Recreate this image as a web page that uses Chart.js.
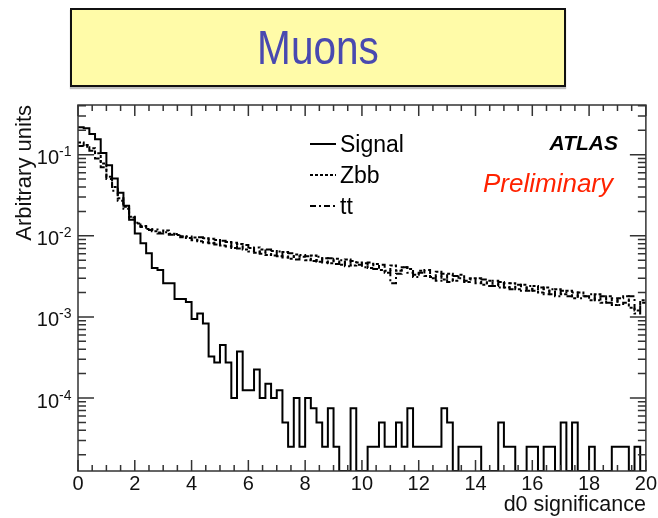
<!DOCTYPE html>
<html>
<head>
<meta charset="utf-8">
<title>Muons - d0 significance</title>
<script src="https://cdn.jsdelivr.net/npm/chart.js@4.4.0/dist/chart.umd.min.js"></script>
<style>
  html, body { margin: 0; padding: 0; background: #fff; }
  #wrap { position: relative; width: 658px; height: 518px; overflow: hidden; }
  #plot { position: absolute; left: 0; top: 0; }
  #banner {
    position: absolute; left: 70px; top: 8px; width: 492px; height: 75px;
    background: #fffba8; border: 2px solid #111;
    box-shadow: 0 2px 1px rgba(0, 0, 0, 0.25);
  }
  #banner span {
    position: absolute; left: 0; right: 0; top: 14px;
    text-align: center;
    font: 48px "Liberation Sans", Arial, sans-serif; line-height: 48px;
    color: #4949b0; transform: scaleX(0.845);
  }
</style>
</head>
<body>
<div id="wrap">
  <canvas id="plot" width="658" height="518"></canvas>
  <div id="banner"><span>Muons</span></div>
</div>
<script>
// binning: 100 bins of 0.2 in d0 significance
const xMin = 0;
const xMax = 20;
const nBins = 100;
const binEdges = [];
for (let i = 0; i < nBins; i++) binEdges.push(+(xMin + i * (xMax - xMin) / nBins).toFixed(2));

const yMin = 1.26e-5;
const yMax = 0.41;
const xTickStep = 2;

// normalised distributions (arbitrary units), one value per bin
const signal = [
  0.218, 0.212, 0.180, 0.155, 0.105, 0.074, 0.051, 0.034, 0.0235, 0.0158,
  0.0107, 0.0081, 0.0061, 0.0040, 0.0038, 0.0026, 0.0026, 0.00166, 0.00166, 0.00153,
  0.00094, 0.0011, 0.00083, 3.25e-4, 2.75e-4, 4.5e-4, 2.75e-4, 1.0e-4, 3.75e-4, 1.25e-4,
  1.25e-4, 2.25e-4, 1.0e-4, 1.5e-4, 1.0e-4, 1.25e-4, 5e-5, 2.5e-5, 1.0e-4, 2.5e-5,
  1.0e-4, 7.5e-5, 5e-5, 2.5e-5, 7.5e-5, 2.5e-5, 0, 0, 7.5e-5, 0,
  0, 2.5e-5, 2.5e-5, 5e-5, 2.5e-5, 2.5e-5, 5e-5, 2.5e-5, 7.5e-5, 2.5e-5,
  2.5e-5, 2.5e-5, 2.5e-5, 2.5e-5, 7.5e-5, 5e-5, 0, 2.5e-5, 2.5e-5, 2.5e-5,
  2.5e-5, 0, 0, 0, 5e-5, 2.5e-5, 2.5e-5, 0, 0, 2.5e-5,
  2.5e-5, 0, 2.5e-5, 2.5e-5, 0, 5e-5, 0, 5e-5, 0, 0,
  2.5e-5, 0, 0, 0, 2.5e-5, 2.5e-5, 2.5e-5, 0, 2.5e-5, 0
];

const zbb = [
  0.141, 0.132, 0.120, 0.104, 0.078, 0.0535, 0.040, 0.029, 0.0228, 0.0172,
  0.0142, 0.0132, 0.0121, 0.0114, 0.0110, 0.0116, 0.0106, 0.0102, 0.0099, 0.0094,
  0.0095, 0.0086, 0.0093, 0.0081, 0.0089, 0.0076, 0.0084, 0.0071, 0.0079, 0.0068,
  0.0071, 0.0062, 0.0068, 0.0058, 0.0065, 0.0056, 0.0063, 0.0052, 0.0059, 0.0055,
  0.0050, 0.0057, 0.0048, 0.0053, 0.0046, 0.0052, 0.0044, 0.0051, 0.0043, 0.0047,
  0.0046, 0.0040, 0.0045, 0.0038, 0.0035, 0.0043, 0.0037, 0.0041, 0.0039, 0.0033,
  0.0037, 0.0032, 0.0030, 0.0036, 0.0029, 0.0034, 0.0028, 0.0033, 0.0027, 0.0030,
  0.0030, 0.0025, 0.0028, 0.0024, 0.0027, 0.0023, 0.0026, 0.0022, 0.0025, 0.0021,
  0.0024, 0.0020, 0.0023, 0.0019, 0.0022, 0.0019, 0.0021, 0.0017, 0.0020, 0.0018,
  0.0016, 0.0019, 0.0015, 0.0018, 0.0014, 0.0017, 0.0018, 0.0013, 0.0012, 0.0016
];

const ttbar = [
  0.128, 0.125, 0.112, 0.090, 0.070, 0.050, 0.036, 0.027, 0.0215, 0.0168,
  0.0145, 0.0128, 0.0118, 0.0120, 0.0107, 0.0111, 0.0103, 0.0105, 0.0096, 0.0098,
  0.0088, 0.0096, 0.0083, 0.0092, 0.0078, 0.0087, 0.0074, 0.0082, 0.0070, 0.0077,
  0.0064, 0.0072, 0.0060, 0.0068, 0.0057, 0.0064, 0.0054, 0.0061, 0.0051, 0.0058,
  0.0056, 0.0049, 0.0055, 0.0047, 0.0053, 0.0045, 0.0050, 0.0042, 0.0049, 0.0044,
  0.0041, 0.0047, 0.0039, 0.0044, 0.0037, 0.0026, 0.0034, 0.0041, 0.0035, 0.0031,
  0.0035, 0.0038, 0.0031, 0.0028, 0.0034, 0.0027, 0.0032, 0.0030, 0.0028, 0.0029,
  0.0026, 0.0029, 0.0024, 0.0028, 0.0023, 0.0026, 0.0022, 0.0025, 0.0021, 0.0024,
  0.0021, 0.0023, 0.0019, 0.0022, 0.0018, 0.0021, 0.0018, 0.0020, 0.0017, 0.0018,
  0.0019, 0.0016, 0.0018, 0.0015, 0.0017, 0.0014, 0.0015, 0.0018, 0.0011, 0.0015
];

const FONT = '"Liberation Sans", Arial, Helvetica, sans-serif';

// histogram outline: one point per left bin edge plus the closing edge;
// empty bins are sent to the bottom of the log axis
function histPoints(values) {
  const pts = values.map((v, i) => ({ x: binEdges[i], y: v > 0 ? v : yMin }));
  const last = values[values.length - 1];
  pts.push({ x: xMax, y: last > 0 ? last : yMin });
  return pts;
}

function isDecade(v) {
  const e = Math.log10(v);
  return Math.abs(e - Math.round(e)) < 1e-6;
}

// frame with ROOT-style inward ticks, exponents, legend and ATLAS labels
const decorations = {
  id: 'decorations',
  afterDraw(chart) {
    const { ctx, chartArea: a, scales: { x, y } } = chart;
    ctx.save();
    ctx.strokeStyle = '#333';
    ctx.lineWidth = 1.5;
    ctx.strokeRect(a.left, a.top, a.right - a.left, a.bottom - a.top);

    ctx.beginPath();
    for (let v = xMin; v <= xMax + 1e-9; v += 0.5) {
      const px = x.getPixelForValue(v);
      const len = Math.abs(v / xTickStep - Math.round(v / xTickStep)) < 1e-6 ? 11 : 6;
      ctx.moveTo(px, a.bottom); ctx.lineTo(px, a.bottom - len);
      ctx.moveTo(px, a.top); ctx.lineTo(px, a.top + len);
    }
    for (let d = -6; d <= 0; d++) {
      for (let m = 1; m <= 9; m++) {
        const v = m * Math.pow(10, d);
        if (v < y.min || v > y.max) continue;
        const py = y.getPixelForValue(v);
        const len = m === 1 ? 16 : 8;
        ctx.moveTo(a.left, py); ctx.lineTo(a.left + len, py);
        ctx.moveTo(a.right, py); ctx.lineTo(a.right - len, py);
      }
    }
    ctx.stroke();

    // exponents of the "10" labels on the log axis
    ctx.fillStyle = '#111';
    ctx.font = '14px ' + FONT;
    ctx.textAlign = 'left';
    ctx.textBaseline = 'alphabetic';
    y.ticks.forEach(t => {
      if (!isDecade(t.value)) return;
      const py = y.getPixelForValue(t.value);
      ctx.fillText(String(Math.round(Math.log10(t.value))), a.left - 19, py + 1.5);
    });

    // legend
    ctx.fillStyle = '#000';
    ctx.font = '23px ' + FONT;
    chart.data.datasets.forEach((ds, i) => {
      const ly = 144 + i * 31;
      ctx.strokeStyle = ds.borderColor;
      ctx.lineWidth = ds.borderWidth;
      ctx.setLineDash(ds.borderDash || []);
      ctx.beginPath();
      ctx.moveTo(310, ly); ctx.lineTo(336, ly);
      ctx.stroke();
      ctx.setLineDash([]);
      ctx.fillText(ds.label, 340, ly + 8);
    });

    ctx.textAlign = 'right';
    ctx.font = 'italic bold 21px ' + FONT;
    ctx.fillText('ATLAS', 618, 150);
    ctx.fillStyle = '#ff2200';
    ctx.font = 'italic 26px ' + FONT;
    ctx.fillText('Preliminary', 613, 192);
    ctx.restore();
  }
};

new Chart(document.getElementById('plot'), {
  type: 'line',
  data: {
    datasets: [
      { label: 'Signal', data: histPoints(signal), borderColor: '#000', borderWidth: 2, borderDash: [] },
      { label: 'Zbb', data: histPoints(zbb), borderColor: '#000', borderWidth: 2, borderDash: [3, 2] },
      { label: 'tt', data: histPoints(ttbar), borderColor: '#000', borderWidth: 2, borderDash: [6, 3, 2, 3] }
    ]
  },
  options: {
    responsive: false,
    animation: false,
    events: [],
    layout: { padding: { left: 0, top: 105, right: 8, bottom: 0 } },
    elements: {
      line: { stepped: 'before', tension: 0, fill: false, borderCapStyle: 'butt', borderJoinStyle: 'miter' },
      point: { radius: 0 }
    },
    plugins: { legend: { display: false }, tooltip: { enabled: false }, title: { display: false } },
    scales: {
      x: {
        type: 'linear',
        min: xMin,
        max: xMax,
        grid: { display: false, drawTicks: false },
        border: { display: false },
        ticks: { stepSize: xTickStep, padding: 1, color: '#111', font: { family: FONT, size: 20 }, maxRotation: 0 },
        title: { display: true, text: 'd0 significance', align: 'end', color: '#111',
                 font: { family: FONT, size: 21.5 }, padding: { top: 0, bottom: 0 } },
        afterFit(scale) { scale.height = 47; }
      },
      y: {
        type: 'logarithmic',
        min: yMin,
        max: yMax,
        grid: { display: false, drawTicks: false },
        border: { display: false },
        ticks: {
          autoSkip: false,
          padding: 19,
          labelOffset: 4,
          color: '#111',
          font: { family: FONT, size: 20 },
          callback: (v) => (isDecade(v) ? '10' : '')
        },
        title: { display: true, text: 'Arbitrary units', align: 'end', color: '#111',
                 font: { family: FONT, size: 22 }, padding: { top: 12, bottom: 0 } },
        afterFit(scale) { scale.width = 78; }
      }
    }
  },
  plugins: [decorations]
});
</script>
</body>
</html>
